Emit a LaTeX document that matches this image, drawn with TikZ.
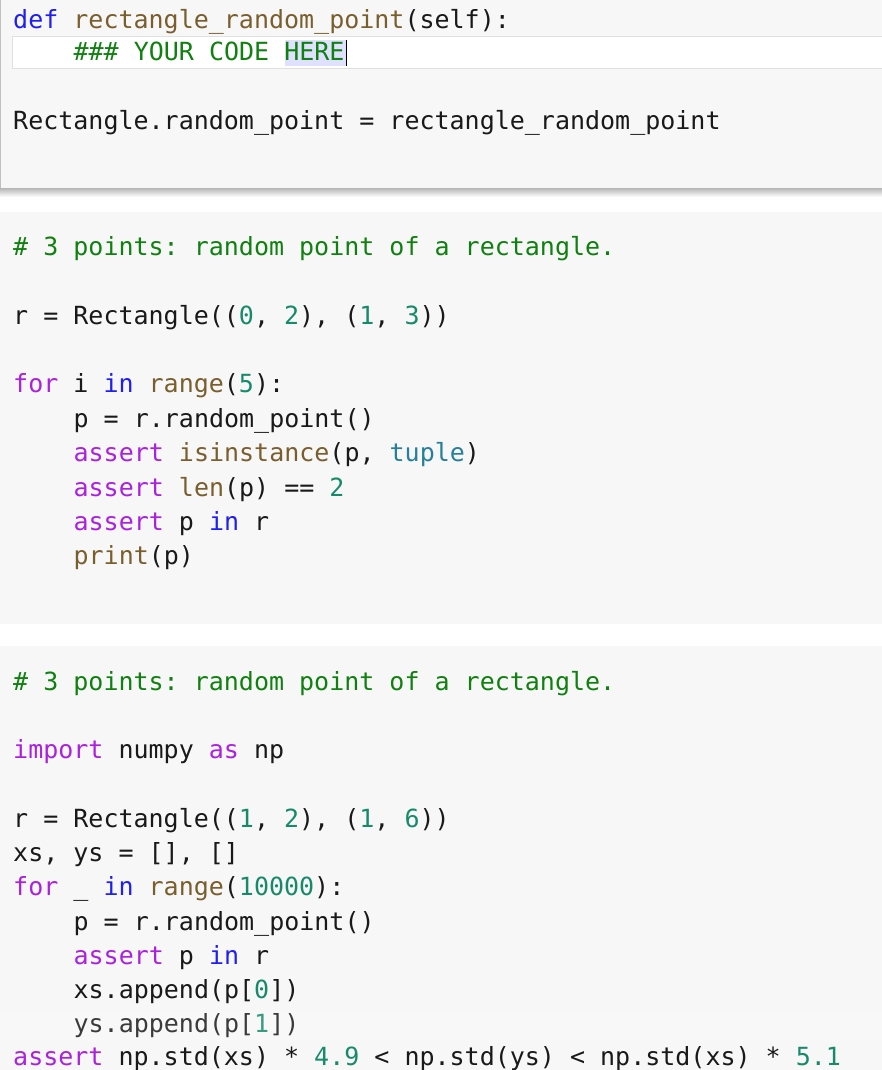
\documentclass[tikz,border=0pt]{standalone}
\usepackage{fontspec}
\setmonofont{DejaVu Sans Mono}
\definecolor{kb}{HTML}{1F1FEF}
\definecolor{kp}{HTML}{AA22DD}
\definecolor{br}{HTML}{7A5F2E}
\definecolor{nm}{HTML}{178A6A}
\definecolor{cm}{HTML}{108010}
\definecolor{tp}{HTML}{26809A}
\definecolor{cellbg}{HTML}{F7F7F7}
\newcommand\cB[1]{\textcolor{kb}{#1}}
\newcommand\cP[1]{\textcolor{kp}{#1}}
\newcommand\cR[1]{\textcolor{br}{#1}}
\newcommand\cN[1]{\textcolor{nm}{#1}}
\newcommand\cC[1]{\textcolor{cm}{#1}}
\newcommand\cT[1]{\textcolor{tp}{#1}}
\begin{document}
\begin{tikzpicture}[x=1pt,y=-1pt,
  code/.style={anchor=base west,inner sep=0pt,font=\ttfamily\fontsize{25}{25}\selectfont,text=black!90}]
\useasboundingbox (0,0) rectangle (882,1070);
\fill[white] (0,0) rectangle (882,1070);
% cell 1
\shade[top color=black!35,bottom color=white] (0,186) rectangle (882,197);
\fill[cellbg] (0,0) rectangle (882,188);
\draw[black!25] (0,0) -- (0,188);
\fill[white,draw=black!12] (12,36) rectangle (890,68);
\fill[blue!12] (285,40) rectangle (346,66);
\draw[black,line width=1pt] (346,40) -- (346,66);
% cell 2, 3
\fill[cellbg] (0,212) rectangle (882,624);
\fill[cellbg] (0,646) rectangle (882,1070);
\node[code] (l1) at (13,29) {\cB{def} \cR{rectangle\_random\_point}(self):};
\node[code] (l2) at (73.4,61) {\cC{\#\#\# YOUR CODE HERE}};
\node[code] (l3) at (13,130) {Rectangle.random\_point = rectangle\_random\_point};
% cell 2
\node[code] (a1) at (13,255) {\cC{\# 3 points: random point of a rectangle.}};
\node[code] (a2) at (13,324) {r = Rectangle((\cN{0}, \cN{2}), (\cN{1}, \cN{3}))};
\node[code] (a3) at (13,392) {\cP{for} i \cB{in} \cR{range}(\cN{5}):};
\node[code] (a4) at (73.4,427) {p = r.random\_point()};
\node[code] (a5) at (73.4,461) {\cP{assert} \cR{isinstance}(p, \cT{tuple})};
\node[code] (a6) at (73.4,496) {\cP{assert} \cR{len}(p) == \cN{2}};
\node[code] (a7) at (73.4,530) {\cP{assert} p \cB{in} r};
\node[code] (a8) at (73.4,564) {\cR{print}(p)};
% cell 3
\node[code] (b1) at (13,690) {\cC{\# 3 points: random point of a rectangle.}};
\node[code] (b2) at (13,758) {\cP{import} numpy \cP{as} np};
\node[code] (b3) at (13,827) {r = Rectangle((\cN{1}, \cN{2}), (\cN{1}, \cN{6}))};
\node[code] (b4) at (13,861) {xs, ys = [], []};
\node[code] (b5) at (13,895) {\cP{for} \_ \cB{in} \cR{range}(\cN{10000}):};
\node[code] (b6) at (73.4,930) {p = r.random\_point()};
\node[code] (b7) at (73.4,964) {\cP{assert} p \cB{in} r};
\node[code] (b8) at (73.4,998) {xs.append(p[\cN{0}])};
\node[code] (b9) at (73.4,1032) {ys.append(p[\cN{1}])};
\node[code] (b10) at (13,1065) {\cP{assert} np.std(xs) * \cN{4.9} < np.std(ys) < np.std(xs) * \cN{5.1}};
\shade[top color=white,bottom color=white,middle color=white,opacity=0.15] (0,1012) rectangle (882,1040);
\end{tikzpicture}
\end{document}
